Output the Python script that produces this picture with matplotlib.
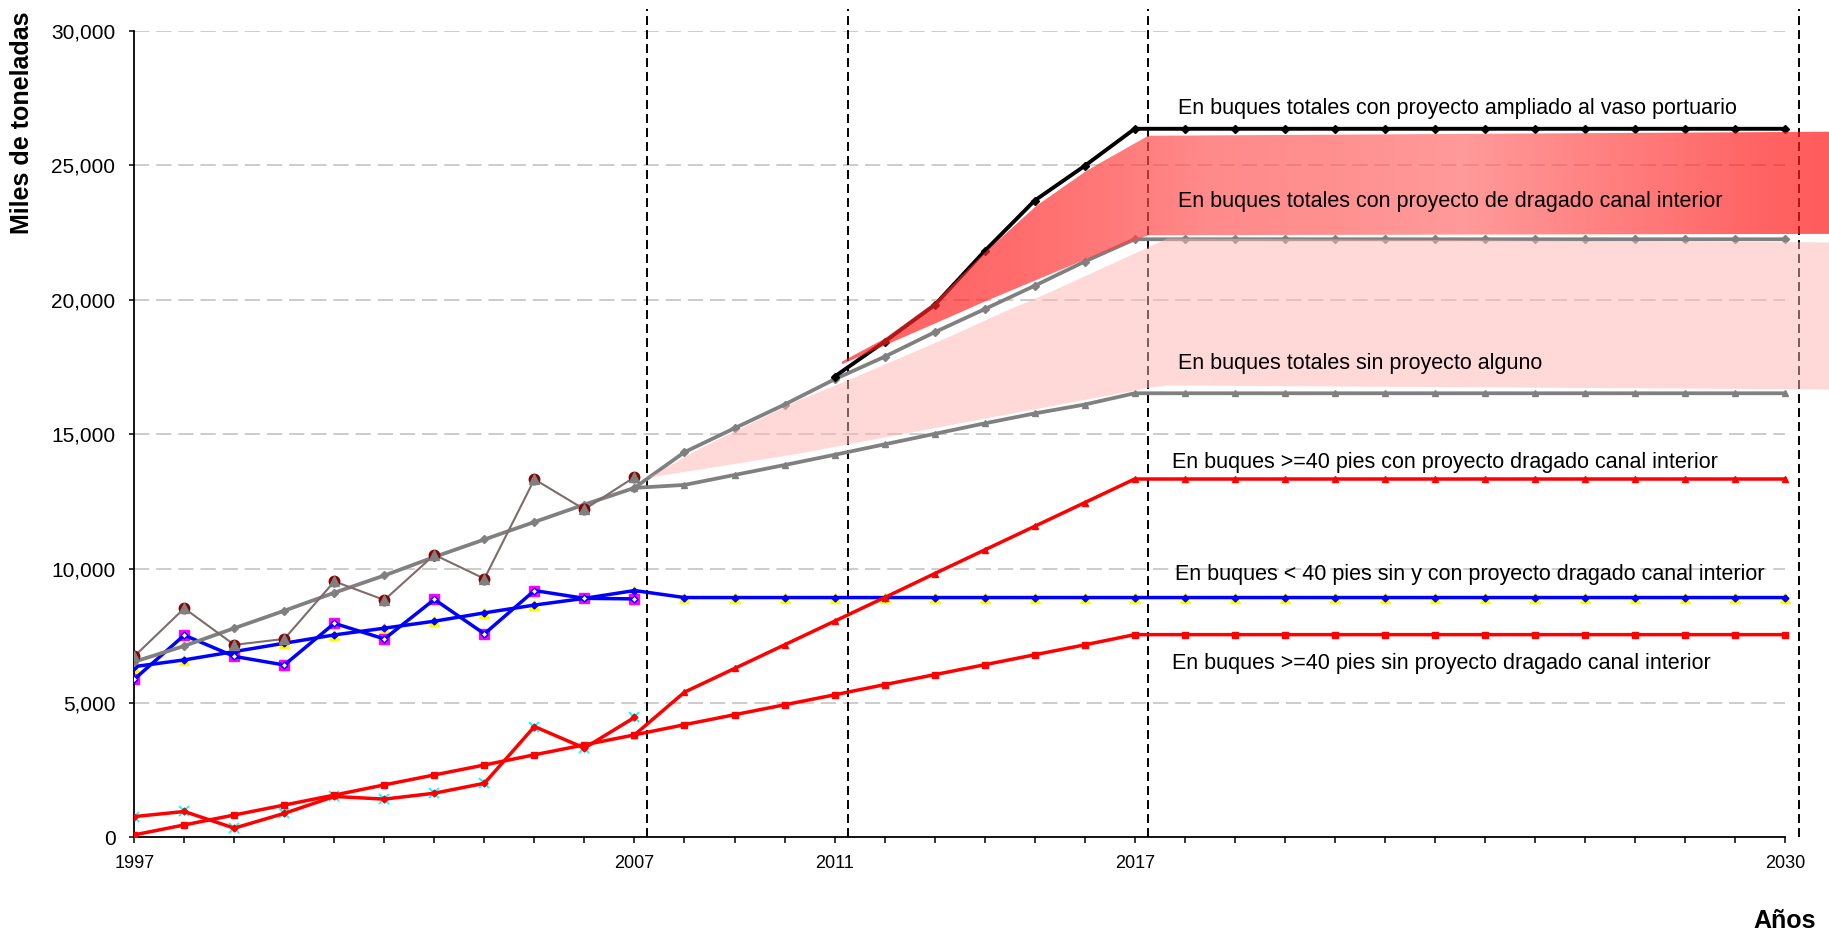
import numpy as np
import matplotlib.pyplot as plt
from matplotlib.colors import LinearSegmentedColormap
from matplotlib.patches import Polygon

plt.rcParams['font.family'] = ['Liberation Sans', 'DejaVu Sans']

# datos (miles de toneladas)
anios_hist = np.arange(1997, 2008)
anios_todos = np.arange(1997, 2031)
anios_proy = np.arange(2007, 2031)
anios_amp = np.arange(2011, 2031)

# totales
total_real = [6730, 8520, 7160, 7380, 9520, 8830, 10510, 9620, 13320, 12200, 13400]
total_con_dragado = [6530, 7120, 7780, 8430, 9100, 9740, 10430, 11080, 11730, 12380,
                     13000, 14330, 15220, 16100, 17040, 17880, 18790, 19650, 20520,
                     21420, 22250] + [22250] * 13
total_sin_proyecto = [13000, 13110, 13480, 13850, 14230, 14620, 15010, 15400, 15770,
                      16100, 16520] + [16520] * 13
total_ampliado = [17140, 18440, 19800, 21810, 23690, 24980, 26360] + [26360] * 13

# buques < 40 pies
menor40_real = [5880, 7520, 6730, 6410, 7960, 7380, 8850, 7570, 9180, 8890, 8870]
menor40_tend = [6350, 6600, 6910, 7220, 7530, 7780, 8040, 8350, 8640, 8890,
                9180] + [8920] * 23

# buques >= 40 pies
mayor40_real = [770, 960, 340, 890, 1520, 1420, 1640, 2010, 4120, 3320, 4460]
mayor40_sin = [90, 460, 830, 1200, 1570, 1950, 2320, 2690, 3070, 3440, 3810, 4190,
               4560, 4930, 5300, 5680, 6050, 6420, 6790, 7160, 7540] + [7540] * 13
mayor40_con = [3810, 5400, 6280, 7160, 8040, 8920, 9810, 10690, 11570, 12450,
               13330] + [13330] * 13

# bandas sombreadas
banda_roja_anios = [2011.15, 2012, 2013, 2014, 2015.04, 2016.04, 2017.27, 2030.88]
banda_roja_sup = [17700, 18550, 19900, 21750, 23500, 24800, 26100, 26250]
banda_roja_inf = [17600, 18300, 19110, 19930, 20740, 21520, 22400, 22450]

banda_rosa_anios = [2007.28, 2008.3, 2009.3, 2010.3, 2011.3, 2012.3, 2013.3, 2014.3,
                    2015.3, 2016.3, 2017.3, 2017.65, 2030.88]
banda_rosa_sup = [13400, 14480, 15400, 16300, 17050, 17850, 18650, 19500, 20300,
                  21150, 22000, 22300, 22150]
banda_rosa_inf = [13400, 13700, 14000, 14300, 14650, 15000, 15350, 15700, 16050,
                  16400, 16750, 16830, 16680]

etiquetas_x = [1997, 2007, 2011, 2017, 2030]
lineas_corte = [2007.26, 2011.27, 2017.26, 2030.28]

textos = [
    ("En buques totales con proyecto ampliado al vaso portuario", 2017.87, 27100),
    ("En buques totales con proyecto de dragado canal interior", 2017.87, 23640),
    ("En buques totales sin proyecto alguno", 2017.87, 17620),
    ("En buques >=40 pies con proyecto dragado canal interior", 2017.75, 13930),
    ("En buques < 40 pies sin y con proyecto dragado canal interior", 2017.8, 9760),
    ("En buques >=40 pies sin proyecto dragado canal interior", 2017.75, 6460),
]

fig = plt.figure(figsize=(18.29, 9.35), dpi=100)
ax = fig.add_axes([0.0734, 0.1045, 0.9266, 0.8624])

# rejilla horizontal
yticks = np.arange(0, 30001, 5000)
ax.hlines(yticks[1:], 1997, 2030, colors='#BFBFBF', linewidth=1.1,
          linestyles=(0, (10, 4.5)), zorder=0.5)

# lineas verticales de corte
ax.vlines(lineas_corte, 0, 30800, colors='black', linewidth=1.4,
          linestyles=(0, (4.6, 2.6)), zorder=1, clip_on=False)

# totales
ax.plot(anios_todos[:len(total_con_dragado)], total_con_dragado, color='#808080', lw=2.7,
        marker='D', ms=4.5, zorder=3)
ax.plot(anios_proy, total_sin_proyecto, color='#808080', lw=2.7, marker='^', ms=5, zorder=3)
ax.plot(anios_hist, total_real, color='#806B6B', lw=1.5, marker='o', ms=7.5,
        mfc='#8B0000', mec='#8B0000', zorder=3.2)
ax.plot(anios_hist, total_real, ls='none', marker='^', ms=7.5, color='#808080', zorder=3.3)
ax.plot(anios_amp, total_ampliado, color='black', lw=2.8, marker='D', ms=4.5, zorder=4)

# < 40 pies
ax.plot(anios_todos, menor40_tend, ls='none', marker='^', ms=7.5, color='#FFFF00', zorder=2.5)
ax.plot(anios_hist, menor40_real, ls='none', marker='s', ms=7.5, color='#FF00FF', zorder=2.5)
ax.plot(anios_todos, menor40_tend, color='#0000FF', lw=2.5, marker='D', ms=3.5, zorder=2.8)
ax.plot(anios_hist, menor40_real, color='#0000FF', lw=2.5, marker='D', ms=3.5,
        mfc='white', zorder=2.8)

# >= 40 pies
ax.plot(anios_hist, mayor40_real, ls='none', marker='x', ms=6.5, mew=1.3, color='#00FFFF',
        zorder=2.5)
ax.plot(anios_hist, mayor40_real, color='#FF0000', lw=2.5, marker='D', ms=3.5, zorder=2.8)
ax.plot(anios_todos[:len(mayor40_sin)], mayor40_sin, color='#FF0000', lw=2.5, marker='s',
        ms=4, zorder=2.8)
ax.plot(anios_proy, mayor40_con, color='#FF0000', lw=2.5, marker='^', ms=5, zorder=2.8)

# banda rosa
ax.fill_between(banda_rosa_anios, banda_rosa_inf, banda_rosa_sup, color='#FFB3B3',
                alpha=0.5, lw=0, zorder=5)

# banda roja con degradado
poly = Polygon(np.column_stack([banda_roja_anios + banda_roja_anios[::-1],
                                banda_roja_sup + banda_roja_inf[::-1]]),
               closed=True, facecolor='none', edgecolor='none')
ax.add_patch(poly)
paradas = [0.0, 0.16, 0.29, 0.37, 0.5, 0.63, 0.81, 0.94, 1.0]
colores = ['#FF1F1F', '#FF2A2A', '#FF4444', '#FF5858', '#FF6060', '#FF6F6F',
           '#FF4141', '#FF1F1F', '#FF1616']
cmap = LinearSegmentedColormap.from_list('rojo', list(zip(paradas, colores)))
grad = np.linspace(0, 1, 600).reshape(1, -1)
im = ax.imshow(grad, extent=[banda_roja_anios[0], banda_roja_anios[-1],
                             min(banda_roja_inf), max(banda_roja_sup)],
               aspect='auto', cmap=cmap, alpha=0.7, origin='lower', zorder=6)
im.set_clip_path(poly)

for txt, x, y in textos:
    ax.text(x, y, txt, fontsize=15.5, ha='left', va='center', zorder=10)

ax.set_xlim(1997, 2030.88)
ax.set_ylim(0, 30000)
ax.set_xticks(anios_todos)
ax.set_xticklabels([str(a) if a in etiquetas_x else '' for a in anios_todos])
ax.set_yticks(yticks)
ax.set_yticklabels([f"{v:,}" for v in yticks])
ax.tick_params(axis='x', direction='out', length=4, width=1.1, labelsize=13, pad=9)
ax.tick_params(axis='y', direction='out', length=3.5, width=1.1, labelsize=15, pad=10)

for s in ['top', 'right']:
    ax.spines[s].set_visible(False)
ax.spines['bottom'].set_bounds(1997, 2030)
ax.spines['bottom'].set_linewidth(1.3)
ax.spines['left'].set_linewidth(1.3)

fig.text(0.012, 0.8684, "Miles de toneladas", rotation=90, ha='center', va='center',
         fontsize=18, fontweight='bold')
fig.text(0.9929, 0.0152, "Años", ha='right', va='center', fontsize=18, fontweight='bold')

fig.savefig('out.png', dpi=100)
